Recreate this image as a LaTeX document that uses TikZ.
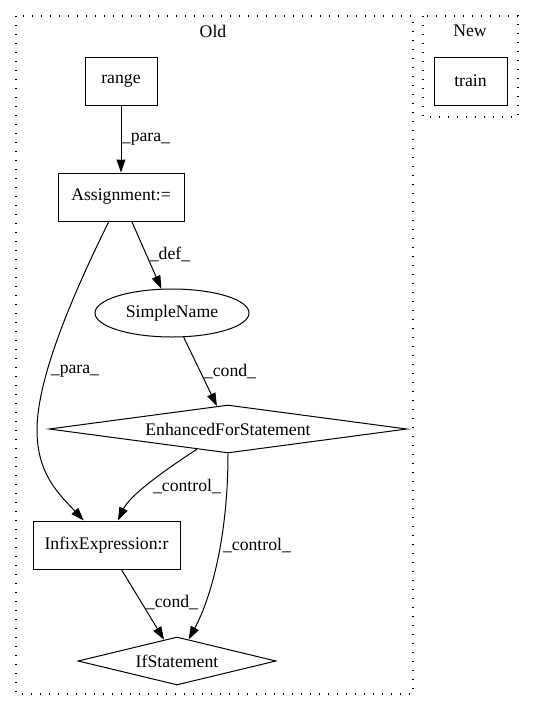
\documentclass[tikz,border=0pt]{standalone}
\usepackage{fontspec}
\setmainfont{Liberation Serif}
\usetikzlibrary{shapes.geometric,arrows.meta}
\begin{document}
\begin{tikzpicture}[x=1pt,y=-1pt,
  every node/.style={font=\fontsize{17.7}{20}\selectfont},
  box/.style={draw,line width=1pt,rectangle,minimum height=48pt,inner sep=0pt},
  ell/.style={draw,line width=1pt,ellipse,minimum width=154pt,minimum height=48pt,inner sep=0pt},
  dia/.style={draw,line width=1pt,diamond,inner sep=0pt},
  cluster/.style={line width=1.3pt,dash pattern=on 1.3pt off 7.7pt},
  edge/.style={draw,line width=1pt,-{Triangle[length=13pt,width=9pt]}},
  lbl/.style={inner sep=0pt}]
\useasboundingbox (0,0) rectangle (533,712);
% clusters
\draw[cluster] (16,16) rectangle (413,694);
\draw[cluster] (423,16) rectangle (518,117);
\node (oldlbl) at (213,31) {Old};
\node (newlbl) at (470,31) {New};
% nodes
\node[box,minimum width=72pt] (range) at (121,81) {range};
\node[box,minimum width=73pt] (train) at (470.5,81) {train};
\node[box,minimum width=126pt] (asg) at (121,197) {Assignment:=};
\node[ell] (sn) at (172,313) {SimpleName};
\node[dia,minimum width=358pt,minimum height=48pt,aspect=7.46] (efs) at (228,429) {EnhancedForStatement};
\node[box,minimum width=147pt] (infix) at (106.5,545) {InfixExpression:r};
\node[dia,minimum width=198pt,minimum height=48pt,aspect=4.125] (ifs) at (177,661) {IfStatement};
\coordinate (cmid) at (37,430);
% edges
\draw[edge] (range) -- (asg);
\draw[edge] (asg) -- (sn);
\draw[edge] (asg) .. controls (70,300) and (37,380) .. (cmid) .. controls (37,475) and (60,495) .. (infix);
\draw[edge] (sn) -- (efs);
\draw[edge] (efs) .. controls (165,470) and (130,495) .. (infix);
\draw[edge] (efs.south) .. controls (228,540) and (210,600) .. (ifs);
\draw[edge] (infix) -- (ifs);
% labels
\node[lbl] (l1) at (146,139) {\_para\_};
\node[lbl] (l2) at (170,254) {\_def\_};
\node[lbl] (l3) at (75,371) {\_para\_};
\node[lbl] (l4) at (230,371) {\_cond\_};
\node[lbl] (l5) at (187,486) {\_control\_};
\node[lbl] (l6) at (257,545) {\_control\_};
\node[lbl] (l7) at (172,602) {\_cond\_};
\end{tikzpicture}
\end{document}
